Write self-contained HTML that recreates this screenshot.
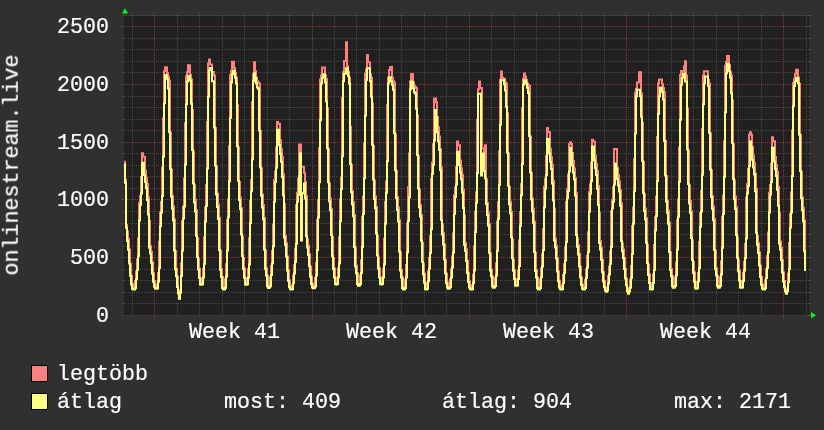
<!DOCTYPE html>
<html><head><meta charset="utf-8"><title>onlinestream.live</title>
<style>
html,body{margin:0;padding:0;background:#303030;}
body{width:824px;height:430px;position:relative;overflow:hidden;font-family:"Liberation Mono",monospace;}
.t{position:absolute;height:30px;line-height:30px;font-size:21.67px;color:#fff;white-space:pre;
   font-family:"Liberation Mono",monospace;transform-origin:0 20.77px;transform:scaleY(1.06);letter-spacing:0;-webkit-text-stroke:0.2px #fff;will-change:transform;}
.v{position:absolute;left:0;top:0;width:221px;height:30px;line-height:30px;font-size:21.67px;color:#fff;white-space:pre;
   font-family:"Liberation Mono",monospace;-webkit-text-stroke:0.2px #fff;will-change:transform;
   transform-origin:0 0;transform:translate(-3.21px,275.50px) rotate(-90deg) scaleY(1.06);}
</style></head><body>
<svg width="824" height="430" viewBox="0 0 824 430" style="position:absolute;left:0;top:0">
<rect x="124" y="16" width="685" height="299" fill="#202020" shape-rendering="crispEdges"/>
<g shape-rendering="crispEdges" stroke-width="1" fill="none">
<line x1="123" x2="808" y1="315.5" y2="315.5" stroke="rgba(224,80,80,0.54)" stroke-dasharray="1,1" opacity="0.42"/>
<line x1="121" x2="123" y1="315.5" y2="315.5" stroke="rgba(140,140,140,0.36)" opacity="0.6"/>
<line x1="808" x2="811" y1="315.5" y2="315.5" stroke="rgba(140,140,140,0.36)"/>
<line x1="124" x2="808" y1="303.5" y2="303.5" stroke="rgba(140,140,140,0.36)" stroke-dasharray="1,1"/>
<line x1="122" x2="124" y1="303.5" y2="303.5" stroke="rgba(140,140,140,0.36)" opacity="0.6"/>
<line x1="808" x2="811" y1="303.5" y2="303.5" stroke="rgba(140,140,140,0.36)"/>
<line x1="124" x2="808" y1="292.5" y2="292.5" stroke="rgba(140,140,140,0.36)" stroke-dasharray="1,1"/>
<line x1="122" x2="124" y1="292.5" y2="292.5" stroke="rgba(140,140,140,0.36)" opacity="0.6"/>
<line x1="808" x2="811" y1="292.5" y2="292.5" stroke="rgba(140,140,140,0.36)"/>
<line x1="124" x2="808" y1="280.5" y2="280.5" stroke="rgba(140,140,140,0.36)" stroke-dasharray="1,1"/>
<line x1="122" x2="124" y1="280.5" y2="280.5" stroke="rgba(140,140,140,0.36)" opacity="0.6"/>
<line x1="808" x2="811" y1="280.5" y2="280.5" stroke="rgba(140,140,140,0.36)"/>
<line x1="124" x2="808" y1="269.5" y2="269.5" stroke="rgba(140,140,140,0.36)" stroke-dasharray="1,1"/>
<line x1="122" x2="124" y1="269.5" y2="269.5" stroke="rgba(140,140,140,0.36)" opacity="0.6"/>
<line x1="808" x2="811" y1="269.5" y2="269.5" stroke="rgba(140,140,140,0.36)"/>
<line x1="123" x2="808" y1="257.5" y2="257.5" stroke="rgba(224,80,80,0.54)" stroke-dasharray="1,1"/>
<line x1="121" x2="123" y1="257.5" y2="257.5" stroke="rgba(140,140,140,0.36)" opacity="0.6"/>
<line x1="808" x2="811" y1="257.5" y2="257.5" stroke="rgba(140,140,140,0.36)"/>
<line x1="124" x2="808" y1="246.5" y2="246.5" stroke="rgba(140,140,140,0.36)" stroke-dasharray="1,1"/>
<line x1="122" x2="124" y1="246.5" y2="246.5" stroke="rgba(140,140,140,0.36)" opacity="0.6"/>
<line x1="808" x2="811" y1="246.5" y2="246.5" stroke="rgba(140,140,140,0.36)"/>
<line x1="124" x2="808" y1="234.5" y2="234.5" stroke="rgba(140,140,140,0.36)" stroke-dasharray="1,1"/>
<line x1="122" x2="124" y1="234.5" y2="234.5" stroke="rgba(140,140,140,0.36)" opacity="0.6"/>
<line x1="808" x2="811" y1="234.5" y2="234.5" stroke="rgba(140,140,140,0.36)"/>
<line x1="124" x2="808" y1="223.5" y2="223.5" stroke="rgba(140,140,140,0.36)" stroke-dasharray="1,1"/>
<line x1="122" x2="124" y1="223.5" y2="223.5" stroke="rgba(140,140,140,0.36)" opacity="0.6"/>
<line x1="808" x2="811" y1="223.5" y2="223.5" stroke="rgba(140,140,140,0.36)"/>
<line x1="124" x2="808" y1="211.5" y2="211.5" stroke="rgba(140,140,140,0.36)" stroke-dasharray="1,1"/>
<line x1="122" x2="124" y1="211.5" y2="211.5" stroke="rgba(140,140,140,0.36)" opacity="0.6"/>
<line x1="808" x2="811" y1="211.5" y2="211.5" stroke="rgba(140,140,140,0.36)"/>
<line x1="123" x2="808" y1="199.5" y2="199.5" stroke="rgba(224,80,80,0.54)" stroke-dasharray="1,1"/>
<line x1="121" x2="123" y1="199.5" y2="199.5" stroke="rgba(140,140,140,0.36)" opacity="0.6"/>
<line x1="808" x2="811" y1="199.5" y2="199.5" stroke="rgba(140,140,140,0.36)"/>
<line x1="124" x2="808" y1="188.5" y2="188.5" stroke="rgba(140,140,140,0.36)" stroke-dasharray="1,1"/>
<line x1="122" x2="124" y1="188.5" y2="188.5" stroke="rgba(140,140,140,0.36)" opacity="0.6"/>
<line x1="808" x2="811" y1="188.5" y2="188.5" stroke="rgba(140,140,140,0.36)"/>
<line x1="124" x2="808" y1="176.5" y2="176.5" stroke="rgba(140,140,140,0.36)" stroke-dasharray="1,1"/>
<line x1="122" x2="124" y1="176.5" y2="176.5" stroke="rgba(140,140,140,0.36)" opacity="0.6"/>
<line x1="808" x2="811" y1="176.5" y2="176.5" stroke="rgba(140,140,140,0.36)"/>
<line x1="124" x2="808" y1="165.5" y2="165.5" stroke="rgba(140,140,140,0.36)" stroke-dasharray="1,1"/>
<line x1="122" x2="124" y1="165.5" y2="165.5" stroke="rgba(140,140,140,0.36)" opacity="0.6"/>
<line x1="808" x2="811" y1="165.5" y2="165.5" stroke="rgba(140,140,140,0.36)"/>
<line x1="124" x2="808" y1="153.5" y2="153.5" stroke="rgba(140,140,140,0.36)" stroke-dasharray="1,1"/>
<line x1="122" x2="124" y1="153.5" y2="153.5" stroke="rgba(140,140,140,0.36)" opacity="0.6"/>
<line x1="808" x2="811" y1="153.5" y2="153.5" stroke="rgba(140,140,140,0.36)"/>
<line x1="123" x2="808" y1="142.5" y2="142.5" stroke="rgba(224,80,80,0.54)" stroke-dasharray="1,1"/>
<line x1="121" x2="123" y1="142.5" y2="142.5" stroke="rgba(140,140,140,0.36)" opacity="0.6"/>
<line x1="808" x2="811" y1="142.5" y2="142.5" stroke="rgba(140,140,140,0.36)"/>
<line x1="124" x2="808" y1="130.5" y2="130.5" stroke="rgba(140,140,140,0.36)" stroke-dasharray="1,1"/>
<line x1="122" x2="124" y1="130.5" y2="130.5" stroke="rgba(140,140,140,0.36)" opacity="0.6"/>
<line x1="808" x2="811" y1="130.5" y2="130.5" stroke="rgba(140,140,140,0.36)"/>
<line x1="124" x2="808" y1="119.5" y2="119.5" stroke="rgba(140,140,140,0.36)" stroke-dasharray="1,1"/>
<line x1="122" x2="124" y1="119.5" y2="119.5" stroke="rgba(140,140,140,0.36)" opacity="0.6"/>
<line x1="808" x2="811" y1="119.5" y2="119.5" stroke="rgba(140,140,140,0.36)"/>
<line x1="124" x2="808" y1="107.5" y2="107.5" stroke="rgba(140,140,140,0.36)" stroke-dasharray="1,1"/>
<line x1="122" x2="124" y1="107.5" y2="107.5" stroke="rgba(140,140,140,0.36)" opacity="0.6"/>
<line x1="808" x2="811" y1="107.5" y2="107.5" stroke="rgba(140,140,140,0.36)"/>
<line x1="124" x2="808" y1="96.5" y2="96.5" stroke="rgba(140,140,140,0.36)" stroke-dasharray="1,1"/>
<line x1="122" x2="124" y1="96.5" y2="96.5" stroke="rgba(140,140,140,0.36)" opacity="0.6"/>
<line x1="808" x2="811" y1="96.5" y2="96.5" stroke="rgba(140,140,140,0.36)"/>
<line x1="123" x2="808" y1="84.5" y2="84.5" stroke="rgba(224,80,80,0.54)" stroke-dasharray="1,1"/>
<line x1="121" x2="123" y1="84.5" y2="84.5" stroke="rgba(140,140,140,0.36)" opacity="0.6"/>
<line x1="808" x2="811" y1="84.5" y2="84.5" stroke="rgba(140,140,140,0.36)"/>
<line x1="124" x2="808" y1="72.5" y2="72.5" stroke="rgba(140,140,140,0.36)" stroke-dasharray="1,1"/>
<line x1="122" x2="124" y1="72.5" y2="72.5" stroke="rgba(140,140,140,0.36)" opacity="0.6"/>
<line x1="808" x2="811" y1="72.5" y2="72.5" stroke="rgba(140,140,140,0.36)"/>
<line x1="124" x2="808" y1="61.5" y2="61.5" stroke="rgba(140,140,140,0.36)" stroke-dasharray="1,1"/>
<line x1="122" x2="124" y1="61.5" y2="61.5" stroke="rgba(140,140,140,0.36)" opacity="0.6"/>
<line x1="808" x2="811" y1="61.5" y2="61.5" stroke="rgba(140,140,140,0.36)"/>
<line x1="124" x2="808" y1="49.5" y2="49.5" stroke="rgba(140,140,140,0.36)" stroke-dasharray="1,1"/>
<line x1="122" x2="124" y1="49.5" y2="49.5" stroke="rgba(140,140,140,0.36)" opacity="0.6"/>
<line x1="808" x2="811" y1="49.5" y2="49.5" stroke="rgba(140,140,140,0.36)"/>
<line x1="124" x2="808" y1="38.5" y2="38.5" stroke="rgba(140,140,140,0.36)" stroke-dasharray="1,1"/>
<line x1="122" x2="124" y1="38.5" y2="38.5" stroke="rgba(140,140,140,0.36)" opacity="0.6"/>
<line x1="808" x2="811" y1="38.5" y2="38.5" stroke="rgba(140,140,140,0.36)"/>
<line x1="123" x2="808" y1="26.5" y2="26.5" stroke="rgba(224,80,80,0.54)" stroke-dasharray="1,1"/>
<line x1="121" x2="123" y1="26.5" y2="26.5" stroke="rgba(140,140,140,0.36)" opacity="0.6"/>
<line x1="808" x2="811" y1="26.5" y2="26.5" stroke="rgba(140,140,140,0.36)"/>
<line x1="124" x2="808" y1="15.5" y2="15.5" stroke="rgba(140,140,140,0.36)" stroke-dasharray="1,1"/>
<line x1="122" x2="124" y1="15.5" y2="15.5" stroke="rgba(140,140,140,0.36)" opacity="0.6"/>
<line x1="808" x2="811" y1="15.5" y2="15.5" stroke="rgba(140,140,140,0.36)"/>
<line x1="132.5" x2="132.5" y1="13" y2="317" stroke="rgba(140,140,140,0.36)" stroke-dasharray="1,1"/>
<line x1="154.5" x2="154.5" y1="13" y2="318" stroke="rgba(224,80,80,0.54)" stroke-dasharray="1,1"/>
<line x1="177.5" x2="177.5" y1="13" y2="317" stroke="rgba(140,140,140,0.36)" stroke-dasharray="1,1"/>
<line x1="199.5" x2="199.5" y1="13" y2="317" stroke="rgba(140,140,140,0.36)" stroke-dasharray="1,1"/>
<line x1="222.5" x2="222.5" y1="13" y2="317" stroke="rgba(140,140,140,0.36)" stroke-dasharray="1,1"/>
<line x1="244.5" x2="244.5" y1="13" y2="317" stroke="rgba(140,140,140,0.36)" stroke-dasharray="1,1"/>
<line x1="267.5" x2="267.5" y1="13" y2="317" stroke="rgba(140,140,140,0.36)" stroke-dasharray="1,1"/>
<line x1="289.5" x2="289.5" y1="13" y2="317" stroke="rgba(140,140,140,0.36)" stroke-dasharray="1,1"/>
<line x1="312.5" x2="312.5" y1="13" y2="318" stroke="rgba(224,80,80,0.54)" stroke-dasharray="1,1"/>
<line x1="334.5" x2="334.5" y1="13" y2="317" stroke="rgba(140,140,140,0.36)" stroke-dasharray="1,1"/>
<line x1="356.5" x2="356.5" y1="13" y2="317" stroke="rgba(140,140,140,0.36)" stroke-dasharray="1,1"/>
<line x1="379.5" x2="379.5" y1="13" y2="317" stroke="rgba(140,140,140,0.36)" stroke-dasharray="1,1"/>
<line x1="401.5" x2="401.5" y1="13" y2="317" stroke="rgba(140,140,140,0.36)" stroke-dasharray="1,1"/>
<line x1="424.5" x2="424.5" y1="13" y2="317" stroke="rgba(140,140,140,0.36)" stroke-dasharray="1,1"/>
<line x1="446.5" x2="446.5" y1="13" y2="317" stroke="rgba(140,140,140,0.36)" stroke-dasharray="1,1"/>
<line x1="469.5" x2="469.5" y1="13" y2="318" stroke="rgba(224,80,80,0.54)" stroke-dasharray="1,1"/>
<line x1="491.5" x2="491.5" y1="13" y2="317" stroke="rgba(140,140,140,0.36)" stroke-dasharray="1,1"/>
<line x1="514.5" x2="514.5" y1="13" y2="317" stroke="rgba(140,140,140,0.36)" stroke-dasharray="1,1"/>
<line x1="536.5" x2="536.5" y1="13" y2="317" stroke="rgba(140,140,140,0.36)" stroke-dasharray="1,1"/>
<line x1="559.5" x2="559.5" y1="13" y2="317" stroke="rgba(140,140,140,0.36)" stroke-dasharray="1,1"/>
<line x1="581.5" x2="581.5" y1="13" y2="317" stroke="rgba(140,140,140,0.36)" stroke-dasharray="1,1"/>
<line x1="604.5" x2="604.5" y1="13" y2="317" stroke="rgba(140,140,140,0.36)" stroke-dasharray="1,1"/>
<line x1="626.5" x2="626.5" y1="13" y2="318" stroke="rgba(224,80,80,0.54)" stroke-dasharray="1,1"/>
<line x1="648.5" x2="648.5" y1="13" y2="317" stroke="rgba(140,140,140,0.36)" stroke-dasharray="1,1"/>
<line x1="671.5" x2="671.5" y1="13" y2="317" stroke="rgba(140,140,140,0.36)" stroke-dasharray="1,1"/>
<line x1="693.5" x2="693.5" y1="13" y2="317" stroke="rgba(140,140,140,0.36)" stroke-dasharray="1,1"/>
<line x1="716.5" x2="716.5" y1="13" y2="317" stroke="rgba(140,140,140,0.36)" stroke-dasharray="1,1"/>
<line x1="738.5" x2="738.5" y1="13" y2="317" stroke="rgba(140,140,140,0.36)" stroke-dasharray="1,1"/>
<line x1="761.5" x2="761.5" y1="13" y2="317" stroke="rgba(140,140,140,0.36)" stroke-dasharray="1,1"/>
<line x1="783.5" x2="783.5" y1="13" y2="318" stroke="rgba(224,80,80,0.54)" stroke-dasharray="1,1"/>
<line x1="806.5" x2="806.5" y1="13" y2="317" stroke="rgba(140,140,140,0.36)" stroke-dasharray="1,1"/>
</g>
<clipPath id="c"><rect x="124" y="15" width="685" height="301"/></clipPath>
<g clip-path="url(#c)"><g fill="none" stroke-width="2" stroke-linejoin="miter" stroke-linecap="butt">
<path d="M124,161.7 L125,161.7 L125,179.8 L126,179.8 L126,224.8 L127,224.8 L127,231.5 L128,231.5 L128,239.0 L129,239.0 L129,249.5 L130,249.5 L130,263.9 L131,263.9 L131,276.0 L132,276.0 L132,284.1 L133,284.1 L133,287.4 L134,287.4 L134,287.6 L135,287.6 L135,281.0 L136,281.0 L136,271.6 L137,271.6 L137,259.6 L138,259.6 L138,238.4 L139,238.4 L139,202.9 L140,202.9 L140,196.0 L141,196.0 L141,176.9 L142,176.9 L142,153.3 L143,153.3 L143,156.8 L144,156.8 L145,156.8 L145,170.8 L146,170.8 L146,177.8 L147,177.8 L147,184.1 L148,184.1 L148,197.5 L149,197.5 L149,220.9 L150,220.9 L150,245.9 L151,245.9 L151,251.8 L152,251.8 L152,262.4 L153,262.4 L153,273.3 L154,273.3 L154,281.0 L155,281.0 L155,285.6 L156,285.6 L156,286.8 L157,286.8 L157,284.2 L158,284.2 L158,273.0 L159,273.0 L159,241.8 L160,241.8 L160,212.5 L161,212.5 L161,202.1 L162,202.1 L162,167.7 L163,167.7 L163,118.3 L164,118.3 L164,71.2 L165,71.2 L165,67.2 L166,67.2 L167,67.2 L167,73.2 L168,73.2 L168,76.7 L169,76.7 L169,80.7 L170,80.7 L170,132.7 L171,132.7 L171,169.8 L172,169.8 L172,195.8 L173,195.8 L173,206.3 L174,206.3 L174,219.2 L175,219.2 L175,251.3 L176,251.3 L176,268.7 L177,268.7 L177,276.5 L178,276.5 L178,290.7 L179,290.7 L179,296.3 L180,296.3 L180,289.9 L181,289.9 L181,263.6 L182,263.6 L182,221.2 L183,221.2 L183,206.8 L184,206.8 L184,178.6 L185,178.6 L185,123.2 L186,123.2 L186,76.2 L187,76.2 L187,72.2 L188,72.2 L188,65.3 L189,65.3 L190,65.3 L190,74.9 L191,74.9 L191,79.6 L192,79.6 L192,110.3 L193,110.3 L193,151.2 L194,151.2 L194,184.8 L195,184.8 L195,199.8 L196,199.8 L196,210.0 L197,210.0 L197,238.0 L198,238.0 L198,258.8 L199,258.8 L199,268.7 L200,268.7 L200,278.2 L201,278.2 L201,282.9 L202,282.9 L202,280.2 L203,280.2 L203,268.9 L204,268.9 L204,237.3 L205,237.3 L205,207.5 L206,207.5 L206,185.2 L207,185.2 L207,121.9 L208,121.9 L208,63.6 L209,63.6 L209,59.5 L210,59.5 L210,64.5 L211,64.5 L212,64.5 L212,72.0 L213,72.0 L214,72.0 L214,75.5 L215,75.5 L215,128.0 L216,128.0 L216,166.6 L217,166.6 L217,193.5 L218,193.5 L218,204.4 L219,204.4 L219,217.8 L220,217.8 L220,251.0 L221,251.0 L221,269.0 L222,269.0 L222,277.1 L223,277.1 L223,287.4 L224,287.4 L224,287.5 L225,287.5 L225,279.3 L226,279.3 L226,263.9 L227,263.9 L227,220.0 L228,220.0 L228,199.5 L229,199.5 L229,146.3 L230,146.3 L230,74.9 L231,74.9 L231,70.9 L232,70.9 L232,61.7 L233,61.7 L234,61.7 L234,68.1 L235,68.1 L235,73.2 L236,73.2 L236,77.8 L237,77.8 L237,105.3 L238,105.3 L238,147.4 L239,147.4 L239,182.0 L240,182.0 L240,197.4 L241,197.4 L241,207.9 L242,207.9 L242,236.7 L243,236.7 L243,258.1 L244,258.1 L244,268.3 L245,268.3 L245,278.1 L246,278.1 L246,282.9 L247,282.9 L247,280.3 L248,280.3 L248,269.2 L249,269.2 L249,238.2 L250,238.2 L250,201.0 L251,201.0 L251,180.0 L252,180.0 L252,102.0 L253,102.0 L253,74.3 L254,74.3 L254,62.3 L255,62.3 L255,70.9 L256,70.9 L256,77.8 L257,77.8 L257,81.3 L258,81.3 L258,82.4 L259,82.4 L259,83.6 L260,83.6 L260,130.9 L261,130.9 L261,168.4 L262,168.4 L262,194.5 L263,194.5 L263,205.1 L264,205.1 L264,218.1 L265,218.1 L265,250.4 L266,250.4 L266,268.0 L267,268.0 L267,275.8 L268,275.8 L268,285.8 L269,285.8 L269,285.9 L270,285.9 L270,277.6 L271,277.6 L271,265.9 L272,265.9 L272,251.0 L273,251.0 L273,224.4 L274,224.4 L274,180.1 L275,180.1 L275,171.5 L276,171.5 L276,147.6 L277,147.6 L277,122.1 L278,122.1 L278,123.8 L279,123.8 L280,123.8 L280,140.2 L281,140.2 L281,149.2 L282,149.2 L282,157.1 L283,157.1 L283,174.1 L284,174.1 L284,203.9 L285,203.9 L285,235.7 L286,235.7 L286,243.1 L287,243.1 L287,256.6 L288,256.6 L288,270.4 L289,270.4 L289,280.3 L290,280.3 L290,286.1 L291,286.1 L291,287.8 L292,287.8 L292,285.4 L293,285.4 L293,275.5 L294,275.5 L294,265.2 L295,265.2 L295,248.7 L296,248.7 L296,205.2 L297,205.2 L297,192.7 L298,192.7 L298,178.7 L299,178.7 L299,144.4 L300,144.4 L301,144.4 L301,166.7 L302,166.7 L303,166.7 L304,166.7 L304,172.7 L305,172.7 L305,182.1 L306,182.1 L306,196.0 L307,196.0 L307,239.3 L308,239.3 L308,245.6 L309,245.6 L309,254.3 L310,254.3 L310,266.4 L311,266.4 L311,276.5 L312,276.5 L312,283.4 L313,283.4 L313,286.1 L314,286.1 L314,286.1 L315,286.1 L315,278.1 L316,278.1 L316,263.0 L317,263.0 L317,220.1 L318,220.1 L318,200.1 L319,200.1 L319,148.1 L320,148.1 L320,79.5 L321,79.5 L321,75.5 L322,75.5 L322,67.4 L323,67.4 L324,67.4 L325,67.4 L325,75.5 L326,75.5 L326,79.0 L327,79.0 L327,108.2 L328,108.2 L328,149.5 L329,149.5 L329,183.4 L330,183.4 L330,198.5 L331,198.5 L331,208.9 L332,208.9 L332,237.2 L333,237.2 L333,258.2 L334,258.2 L334,268.2 L335,268.2 L335,277.8 L336,277.8 L336,282.5 L337,282.5 L337,279.9 L338,279.9 L338,268.5 L339,268.5 L339,236.9 L340,236.9 L340,198.9 L341,198.9 L341,177.5 L342,177.5 L342,97.8 L343,97.8 L343,72.0 L344,72.0 L344,61.0 L345,61.0 L346,61.0 L346,42.2 L347,42.2 L347,66.3 L348,66.3 L348,72.0 L349,72.0 L349,77.8 L350,77.8 L350,126.8 L351,126.8 L351,164.7 L352,164.7 L352,191.2 L353,191.2 L353,201.9 L354,201.9 L354,215.1 L355,215.1 L355,247.8 L356,247.8 L356,265.5 L357,265.5 L357,273.5 L358,273.5 L358,283.6 L359,283.6 L359,283.7 L360,283.7 L360,275.5 L361,275.5 L361,260.2 L362,260.2 L362,216.7 L363,216.7 L363,196.4 L364,196.4 L364,143.6 L365,143.6 L365,73.8 L366,73.8 L366,69.7 L367,69.7 L367,55.0 L368,55.0 L368,62.2 L369,62.2 L370,62.2 L370,74.3 L371,74.3 L371,77.8 L372,77.8 L372,103.6 L373,103.6 L373,146.0 L374,146.0 L374,180.8 L375,180.8 L375,196.3 L376,196.3 L376,207.0 L377,207.0 L377,236.0 L378,236.0 L378,257.5 L379,257.5 L379,267.8 L380,267.8 L380,277.7 L381,277.7 L381,282.5 L382,282.5 L382,280.0 L383,280.0 L383,269.1 L384,269.1 L384,238.7 L385,238.7 L385,202.1 L386,202.1 L386,181.5 L387,181.5 L387,104.9 L388,104.9 L388,77.8 L389,77.8 L389,70.1 L390,70.1 L390,67.1 L391,67.1 L392,67.1 L392,77.8 L393,77.8 L393,81.3 L394,81.3 L394,82.4 L395,82.4 L395,133.9 L396,133.9 L396,171.0 L397,171.0 L397,196.9 L398,196.9 L398,207.4 L399,207.4 L399,220.3 L400,220.3 L400,252.3 L401,252.3 L401,269.7 L402,269.7 L402,277.5 L403,277.5 L403,287.4 L404,287.4 L404,287.5 L405,287.5 L405,279.7 L406,279.7 L406,265.1 L407,265.1 L407,223.4 L408,223.4 L408,187.2 L409,187.2 L409,153.5 L410,153.5 L410,81.3 L411,81.3 L411,74.1 L412,74.1 L413,74.1 L413,82.4 L414,82.4 L414,85.9 L415,85.9 L415,87.0 L416,87.0 L416,88.2 L417,88.2 L417,115.4 L418,115.4 L418,156.2 L419,156.2 L419,189.8 L420,189.8 L420,204.7 L421,204.7 L421,215.0 L422,215.0 L422,242.9 L423,242.9 L423,263.6 L424,263.6 L424,273.6 L425,273.6 L425,283.1 L426,283.1 L426,287.7 L427,287.7 L427,284.6 L428,284.6 L428,271.5 L429,271.5 L429,258.0 L430,258.0 L430,236.3 L431,236.3 L431,179.0 L432,179.0 L432,162.6 L433,162.6 L433,144.2 L434,144.2 L434,98.5 L435,98.5 L436,98.5 L436,102.2 L437,102.2 L437,116.9 L438,116.9 L438,127.2 L439,127.2 L439,136.5 L440,136.5 L440,148.9 L441,148.9 L441,167.3 L442,167.3 L442,224.4 L443,224.4 L443,232.8 L444,232.8 L444,244.4 L445,244.4 L445,260.3 L446,260.3 L446,273.7 L447,273.7 L447,282.8 L448,282.8 L448,286.4 L449,286.4 L449,286.6 L450,286.6 L450,279.5 L451,279.5 L451,269.3 L452,269.3 L452,256.4 L453,256.4 L453,233.4 L454,233.4 L454,195.0 L455,195.0 L455,187.6 L456,187.6 L456,167.0 L457,167.0 L457,141.5 L458,141.5 L458,145.2 L459,145.2 L460,145.2 L460,160.5 L461,160.5 L461,168.2 L462,168.2 L462,175.1 L463,175.1 L463,189.8 L464,189.8 L464,215.4 L465,215.4 L465,242.9 L466,242.9 L466,249.3 L467,249.3 L467,260.9 L468,260.9 L468,272.8 L469,272.8 L469,281.4 L470,281.4 L470,286.4 L471,286.4 L471,287.8 L472,287.8 L472,285.3 L473,285.3 L473,275.0 L474,275.0 L474,246.3 L475,246.3 L475,211.7 L476,211.7 L476,192.2 L477,192.2 L477,119.7 L478,119.7 L478,89.3 L479,89.3 L479,81.6 L480,81.6 L480,88.0 L481,88.0 L482,88.0 L482,148.2 L483,148.2 L484,148.2 L484,162.0 L485,162.0 L485,145.2 L486,145.2 L486,179.2 L487,179.2 L487,202.9 L488,202.9 L488,212.5 L489,212.5 L489,224.3 L490,224.3 L490,253.6 L491,253.6 L491,269.5 L492,269.5 L492,276.6 L493,276.6 L493,285.6 L494,285.6 L495,285.6 L495,277.9 L496,277.9 L496,263.2 L497,263.2 L497,221.6 L498,221.6 L498,202.2 L499,202.2 L499,151.6 L500,151.6 L500,80.0 L501,80.0 L501,71.6 L502,71.6 L502,77.8 L503,77.8 L503,78.8 L504,78.8 L505,78.8 L505,82.3 L506,82.3 L506,83.5 L507,83.5 L507,113.2 L508,113.2 L508,153.6 L509,153.6 L509,186.9 L510,186.9 L510,201.7 L511,201.7 L511,211.8 L512,211.8 L512,239.6 L513,239.6 L513,260.1 L514,260.1 L514,269.9 L515,269.9 L515,279.3 L516,279.3 L516,283.9 L517,283.9 L517,281.4 L518,281.4 L518,270.6 L519,270.6 L519,240.6 L520,240.6 L520,212.3 L521,212.3 L521,184.0 L522,184.0 L522,108.3 L523,108.3 L523,79.0 L524,79.0 L524,73.4 L525,73.4 L525,76.7 L526,76.7 L526,80.1 L527,80.1 L527,83.6 L528,83.6 L528,84.7 L529,84.7 L529,85.9 L530,85.9 L530,136.6 L531,136.6 L531,173.0 L532,173.0 L532,198.5 L533,198.5 L533,208.8 L534,208.8 L534,221.5 L535,221.5 L535,253.0 L536,253.0 L536,270.0 L537,270.0 L537,277.7 L538,277.7 L538,287.4 L539,287.4 L539,287.5 L540,287.5 L540,279.6 L541,279.6 L541,268.5 L542,268.5 L542,254.3 L543,254.3 L543,229.0 L544,229.0 L544,186.8 L545,186.8 L545,178.7 L546,178.7 L546,155.9 L547,155.9 L547,128.1 L548,128.1 L548,132.1 L549,132.1 L550,132.1 L550,148.8 L551,148.8 L551,157.2 L552,157.2 L552,164.7 L553,164.7 L553,180.7 L554,180.7 L554,208.8 L555,208.8 L555,238.7 L556,238.7 L556,245.7 L557,245.7 L557,258.4 L558,258.4 L558,271.4 L559,271.4 L559,280.7 L560,280.7 L560,286.2 L561,286.2 L561,287.8 L562,287.8 L562,285.3 L563,285.3 L563,275.0 L564,275.0 L564,264.3 L565,264.3 L565,247.2 L566,247.2 L566,201.9 L567,201.9 L567,188.9 L568,188.9 L568,174.4 L569,174.4 L569,144.0 L570,144.0 L570,142.3 L571,142.3 L571,144.0 L572,144.0 L572,152.9 L573,152.9 L573,161.1 L574,161.1 L574,168.4 L575,168.4 L575,178.3 L576,178.3 L576,192.9 L577,192.9 L577,238.3 L578,238.3 L578,244.9 L579,244.9 L579,254.1 L580,254.1 L580,266.8 L581,266.8 L581,277.4 L582,277.4 L582,284.6 L583,284.6 L583,287.5 L584,287.5 L584,287.5 L585,287.5 L585,280.1 L586,280.1 L586,269.5 L587,269.5 L587,256.0 L588,256.0 L588,232.0 L589,232.0 L589,191.9 L590,191.9 L590,184.2 L591,184.2 L591,162.6 L592,162.6 L592,139.8 L593,139.8 L593,141.5 L594,141.5 L595,141.5 L595,155.8 L596,155.8 L596,163.8 L597,163.8 L597,170.9 L598,170.9 L598,186.1 L599,186.1 L599,212.7 L600,212.7 L600,241.0 L601,241.0 L601,247.7 L602,247.7 L602,259.7 L603,259.7 L603,272.1 L604,272.1 L604,280.9 L605,280.9 L605,287.6 L606,287.6 L606,289.5 L607,289.5 L607,287.6 L608,287.6 L608,276.2 L609,276.2 L609,266.7 L610,266.7 L610,251.5 L611,251.5 L611,211.3 L612,211.3 L612,199.8 L613,199.8 L613,186.9 L614,186.9 L614,149.1 L615,149.1 L616,149.1 L617,149.1 L617,167.7 L618,167.7 L618,175.0 L619,175.0 L619,181.5 L620,181.5 L620,190.3 L621,190.3 L621,203.3 L622,203.3 L622,243.6 L623,243.6 L623,249.5 L624,249.5 L624,257.7 L625,257.7 L625,268.9 L626,268.9 L626,278.4 L627,278.4 L627,288.3 L628,288.3 L628,291.4 L629,291.4 L629,288.6 L630,288.6 L630,279.9 L631,279.9 L631,265.9 L632,265.9 L632,226.1 L633,226.1 L633,207.5 L634,207.5 L634,159.3 L635,159.3 L635,92.8 L636,92.8 L636,88.8 L637,88.8 L637,82.5 L638,82.5 L639,82.5 L639,72.3 L640,72.3 L641,72.3 L641,93.6 L642,93.6 L642,122.9 L643,122.9 L643,162.0 L644,162.0 L644,194.1 L645,194.1 L645,208.4 L646,208.4 L646,218.2 L647,218.2 L647,244.9 L648,244.9 L648,264.7 L649,264.7 L649,274.2 L650,274.2 L650,283.3 L651,283.3 L651,287.7 L652,287.7 L652,285.3 L653,285.3 L653,274.6 L654,274.6 L654,245.1 L655,245.1 L655,217.3 L656,217.3 L656,196.4 L657,196.4 L657,137.1 L658,137.1 L658,83.6 L659,83.6 L659,79.5 L660,79.5 L661,79.5 L662,79.5 L662,84.2 L663,84.2 L663,88.1 L664,88.1 L664,92.2 L665,92.2 L665,141.1 L666,141.1 L666,176.1 L667,176.1 L667,200.5 L668,200.5 L668,210.4 L669,210.4 L669,222.5 L670,222.5 L670,252.6 L671,252.6 L671,269.0 L672,269.0 L672,276.3 L673,276.3 L673,285.6 L674,285.6 L675,285.6 L675,277.6 L676,277.6 L676,262.5 L677,262.5 L677,219.7 L678,219.7 L678,199.6 L679,199.6 L679,147.6 L680,147.6 L680,75.0 L681,75.0 L681,71.0 L682,71.0 L683,71.0 L684,71.0 L684,66.3 L685,66.3 L685,61.3 L686,61.3 L686,75.5 L687,75.5 L687,108.5 L688,108.5 L688,150.7 L689,150.7 L689,185.5 L690,185.5 L690,200.9 L691,200.9 L691,211.5 L692,211.5 L692,240.5 L693,240.5 L693,261.9 L694,261.9 L694,272.2 L695,272.2 L695,282.0 L696,282.0 L696,286.8 L697,286.8 L697,284.2 L698,284.2 L698,273.1 L699,273.1 L699,242.1 L700,242.1 L700,212.9 L701,212.9 L701,191.0 L702,191.0 L702,128.9 L703,128.9 L703,75.4 L704,75.4 L704,71.3 L705,71.3 L706,71.3 L707,71.3 L708,71.3 L708,80.1 L709,80.1 L709,83.6 L710,83.6 L710,133.4 L711,133.4 L711,170.2 L712,170.2 L712,195.9 L713,195.9 L713,206.3 L714,206.3 L714,219.1 L715,219.1 L715,250.8 L716,250.8 L716,268.0 L717,268.0 L717,275.7 L718,275.7 L718,285.6 L719,285.6 L719,285.6 L720,285.6 L720,277.2 L721,277.2 L721,261.5 L722,261.5 L722,216.7 L723,216.7 L723,195.8 L724,195.8 L724,141.4 L725,141.4 L725,65.9 L726,65.9 L726,61.9 L727,61.9 L727,55.9 L728,55.9 L729,55.9 L729,65.1 L730,65.1 L730,72.0 L731,72.0 L731,75.5 L732,75.5 L732,100.4 L733,100.4 L733,144.3 L734,144.3 L734,180.5 L735,180.5 L735,196.5 L736,196.5 L736,207.6 L737,207.6 L737,237.7 L738,237.7 L738,259.9 L739,259.9 L739,270.6 L740,270.6 L740,280.9 L741,280.9 L741,285.9 L742,285.9 L742,283.4 L743,283.4 L743,272.7 L744,272.7 L744,261.7 L745,261.7 L745,244.0 L746,244.0 L746,197.4 L747,197.4 L747,184.0 L748,184.0 L748,169.0 L749,169.0 L749,134.8 L750,134.8 L750,132.3 L751,132.3 L751,134.7 L752,134.7 L752,146.9 L753,146.9 L753,155.4 L754,155.4 L754,163.1 L755,163.1 L755,173.4 L756,173.4 L756,188.7 L757,188.7 L757,236.1 L758,236.1 L758,243.0 L759,243.0 L759,252.6 L760,252.6 L760,265.8 L761,265.8 L761,276.9 L762,276.9 L762,284.4 L763,284.4 L763,287.4 L764,287.4 L764,287.5 L765,287.5 L765,280.1 L766,280.1 L766,269.6 L767,269.6 L767,256.3 L768,256.3 L768,232.5 L769,232.5 L769,192.8 L770,192.8 L770,185.1 L771,185.1 L771,163.7 L772,163.7 L772,137.2 L773,137.2 L773,141.3 L774,141.3 L775,141.3 L775,157.0 L776,157.0 L776,164.9 L777,164.9 L777,171.9 L778,171.9 L778,187.0 L779,187.0 L779,213.3 L780,213.3 L780,241.5 L781,241.5 L781,248.1 L782,248.1 L782,260.0 L783,260.0 L783,272.2 L784,272.2 L784,280.9 L785,280.9 L785,288.5 L786,288.5 L786,291.4 L787,291.4 L787,288.4 L788,288.4 L788,273.8 L789,273.8 L789,243.0 L790,243.0 L790,214.0 L791,214.0 L791,192.3 L792,192.3 L792,130.5 L793,130.5 L793,83.0 L794,83.0 L794,79.0 L795,79.0 L795,74.3 L796,74.3 L796,69.7 L797,69.7 L798,69.7 L798,77.8 L799,77.8 L799,83.8 L800,83.8 L800,135.1 L801,135.1 L801,171.7 L802,171.7 L802,197.3 L803,197.3 L803,207.7 L804,207.7 L804,220.4 L805,220.4 L805,252.0 L806,252.0" stroke="#FF8080"/>
<path d="M124,164.6 L125,164.6 L125,182.7 L126,182.7 L126,227.7 L127,227.7 L127,240.9 L128,240.9 L128,249.8 L129,249.8 L129,263.4 L130,263.4 L130,275.8 L131,275.8 L131,284.4 L132,284.4 L132,288.7 L133,288.7 L133,289.6 L134,289.6 L134,289.5 L135,289.5 L135,288.2 L136,288.2 L136,279.3 L137,279.3 L137,270.1 L138,270.1 L138,256.2 L139,256.2 L139,220.6 L140,220.6 L140,204.7 L141,204.7 L141,193.4 L142,193.4 L142,162.8 L143,162.8 L144,162.8 L144,174.9 L145,174.9 L145,181.9 L146,181.9 L146,188.0 L147,188.0 L147,200.1 L148,200.1 L148,214.4 L149,214.4 L149,247.8 L150,247.8 L150,253.5 L151,253.5 L151,262.7 L152,262.7 L152,273.6 L153,273.6 L153,281.7 L154,281.7 L154,286.8 L155,286.8 L155,288.4 L156,288.4 L156,288.7 L157,288.7 L157,288.2 L158,288.2 L158,281.6 L159,281.6 L159,268.0 L160,268.0 L160,226.3 L161,226.3 L161,212.6 L162,212.6 L162,195.9 L163,195.9 L163,156.5 L164,156.5 L164,103.2 L165,103.2 L165,75.0 L166,75.0 L167,75.0 L167,79.0 L168,79.0 L168,88.4 L169,88.4 L169,132.1 L170,132.1 L170,169.1 L171,169.1 L171,196.8 L172,196.8 L172,208.8 L173,208.8 L173,220.4 L174,220.4 L174,250.4 L175,250.4 L175,269.6 L176,269.6 L176,276.3 L177,276.3 L177,286.9 L178,286.9 L178,293.6 L179,293.6 L179,298.7 L180,298.7 L180,292.8 L181,292.8 L181,276.1 L182,276.1 L182,250.8 L183,250.8 L183,218.6 L184,218.6 L184,206.5 L185,206.5 L185,164.5 L186,164.5 L186,104.3 L187,104.3 L187,81.4 L188,81.4 L188,76.1 L189,76.1 L190,76.1 L190,80.5 L191,80.5 L191,103.7 L192,103.7 L192,150.1 L193,150.1 L193,183.6 L194,183.6 L194,202.4 L195,202.4 L195,211.4 L196,211.4 L196,235.8 L197,235.8 L197,256.9 L198,256.9 L198,269.5 L199,269.5 L199,278.0 L200,278.0 L200,284.4 L201,284.4 L201,284.8 L202,284.8 L202,284.3 L203,284.3 L203,277.5 L204,277.5 L204,263.8 L205,263.8 L205,221.5 L206,221.5 L206,205.9 L207,205.9 L207,168.6 L208,168.6 L208,96.7 L209,96.7 L209,70.2 L210,70.2 L210,68.0 L211,68.0 L212,68.0 L212,81.3 L213,81.3 L214,81.3 L214,127.4 L215,127.4 L215,165.7 L216,165.7 L216,194.5 L217,194.5 L217,206.9 L218,206.9 L218,218.9 L219,218.9 L219,250.0 L220,250.0 L220,269.9 L221,269.9 L221,276.9 L222,276.9 L222,287.9 L223,287.9 L223,289.6 L224,289.6 L224,289.4 L225,289.4 L225,287.8 L226,287.8 L226,276.7 L227,276.7 L227,250.5 L228,250.5 L228,217.3 L229,217.3 L229,181.3 L230,181.3 L230,117.8 L231,117.8 L231,82.4 L232,82.4 L232,74.3 L233,74.3 L233,70.7 L234,70.7 L235,70.7 L235,77.8 L236,77.8 L236,83.6 L237,83.6 L237,146.2 L238,146.2 L238,180.7 L239,180.7 L239,200.0 L240,200.0 L240,209.3 L241,209.3 L241,234.4 L242,234.4 L242,256.1 L243,256.1 L243,269.1 L244,269.1 L244,277.8 L245,277.8 L245,284.4 L246,284.4 L246,284.8 L247,284.8 L247,284.3 L248,284.3 L248,277.7 L249,277.7 L249,264.2 L250,264.2 L250,222.9 L251,222.9 L251,191.3 L252,191.3 L252,159.3 L253,159.3 L253,81.3 L254,81.3 L254,73.2 L255,73.2 L255,77.8 L256,77.8 L256,83.6 L257,83.6 L257,87.6 L258,87.6 L258,88.8 L259,88.8 L259,130.4 L260,130.4 L260,167.6 L261,167.6 L261,195.5 L262,195.5 L262,207.6 L263,207.6 L263,219.3 L264,219.3 L264,249.5 L265,249.5 L265,268.8 L266,268.8 L266,275.6 L267,275.6 L267,286.3 L268,286.3 L268,288.0 L269,288.0 L269,287.8 L270,287.8 L270,286.2 L271,286.2 L271,275.0 L272,275.0 L272,263.6 L273,263.6 L273,246.3 L274,246.3 L274,201.8 L275,201.8 L275,182.0 L276,182.0 L276,167.8 L277,167.8 L277,129.7 L278,129.7 L279,129.7 L279,145.1 L280,145.1 L280,154.0 L281,154.0 L281,161.7 L282,161.7 L282,177.0 L283,177.0 L283,195.2 L284,195.2 L284,237.6 L285,237.6 L285,244.8 L286,244.8 L286,256.5 L287,256.5 L287,270.4 L288,270.4 L288,280.7 L289,280.7 L289,287.2 L290,287.2 L290,289.3 L291,289.3 L291,289.6 L292,289.6 L292,289.2 L293,289.2 L293,283.3 L294,283.3 L294,273.6 L295,273.6 L295,261.7 L296,261.7 L296,243.7 L297,243.7 L297,201.8 L298,201.8 L298,194.7 L299,194.7 L299,176.0 L300,176.0 L300,153.2 L301,153.2 L301,240.4 L302,240.4 L302,193.2 L303,193.2 L304,193.2 L304,183.4 L305,183.4 L305,198.5 L306,198.5 L306,236.3 L307,236.3 L307,247.4 L308,247.4 L308,254.9 L309,254.9 L309,266.3 L310,266.3 L310,276.7 L311,276.7 L311,283.9 L312,283.9 L312,287.5 L313,287.5 L313,288.3 L314,288.3 L314,288.0 L315,288.0 L315,286.5 L316,286.5 L316,275.6 L317,275.6 L317,250.0 L318,250.0 L318,217.5 L319,217.5 L319,182.3 L320,182.3 L320,120.2 L321,120.2 L321,83.6 L322,83.6 L322,78.0 L323,78.0 L323,74.3 L324,74.3 L325,74.3 L325,82.4 L326,82.4 L326,101.5 L327,101.5 L327,148.3 L328,148.3 L328,182.2 L329,182.2 L329,201.2 L330,201.2 L330,210.3 L331,210.3 L331,234.9 L332,234.9 L332,256.2 L333,256.2 L333,269.0 L334,269.0 L334,277.5 L335,277.5 L335,284.1 L336,284.1 L336,284.4 L337,284.4 L337,284.0 L338,284.0 L338,277.2 L339,277.2 L339,263.4 L340,263.4 L340,221.2 L341,221.2 L341,189.0 L342,189.0 L342,156.2 L343,156.2 L343,81.3 L344,81.3 L344,73.7 L345,73.7 L346,73.7 L346,68.2 L347,68.2 L348,68.2 L348,76.1 L349,76.1 L349,83.6 L350,83.6 L350,163.9 L351,163.9 L351,192.2 L352,192.2 L352,204.5 L353,204.5 L353,216.2 L354,216.2 L354,246.9 L355,246.9 L355,266.4 L356,266.4 L356,273.3 L357,273.3 L357,284.1 L358,284.1 L358,285.8 L359,285.8 L359,285.6 L360,285.6 L360,284.1 L361,284.1 L361,273.0 L362,273.0 L362,247.0 L363,247.0 L363,214.0 L364,214.0 L364,178.3 L365,178.3 L365,115.4 L366,115.4 L366,80.1 L367,80.1 L367,68.2 L368,68.2 L369,68.2 L370,68.2 L370,81.3 L371,81.3 L371,96.7 L372,96.7 L372,144.7 L373,144.7 L373,179.5 L374,179.5 L374,199.0 L375,199.0 L375,208.3 L376,208.3 L376,233.6 L377,233.6 L377,255.5 L378,255.5 L378,268.6 L379,268.6 L379,277.4 L380,277.4 L380,284.1 L381,284.1 L381,284.4 L382,284.4 L382,284.0 L383,284.0 L383,277.5 L384,277.5 L384,264.2 L385,264.2 L385,223.7 L386,223.7 L386,192.7 L387,192.7 L387,161.2 L388,161.2 L388,83.6 L389,83.6 L389,77.3 L390,77.3 L391,77.3 L391,81.3 L392,81.3 L392,84.7 L393,84.7 L393,89.7 L394,89.7 L394,133.3 L395,133.3 L395,170.3 L396,170.3 L396,197.9 L397,197.9 L397,209.9 L398,209.9 L398,221.5 L399,221.5 L399,251.5 L400,251.5 L400,270.6 L401,270.6 L401,277.4 L402,277.4 L402,287.9 L403,287.9 L403,289.6 L404,289.6 L404,289.4 L405,289.4 L405,287.9 L406,287.9 L406,277.4 L407,277.4 L407,252.5 L408,252.5 L408,220.9 L409,220.9 L409,197.2 L410,197.2 L410,89.3 L411,89.3 L411,81.7 L412,81.7 L413,81.7 L413,88.2 L414,88.2 L414,92.2 L415,92.2 L415,93.4 L416,93.4 L416,108.8 L417,108.8 L417,155.1 L418,155.1 L418,188.5 L419,188.5 L419,207.3 L420,207.3 L420,216.4 L421,216.4 L421,240.7 L422,240.7 L422,261.8 L423,261.8 L423,274.4 L424,274.4 L424,282.8 L425,282.8 L425,289.3 L426,289.3 L426,289.6 L427,289.6 L427,289.1 L428,289.1 L428,281.2 L429,281.2 L429,268.4 L430,268.4 L430,252.9 L431,252.9 L431,229.2 L432,229.2 L432,174.0 L433,174.0 L433,164.7 L434,164.7 L434,140.2 L435,140.2 L435,110.1 L436,110.1 L436,117.2 L437,117.2 L437,132.2 L438,132.2 L438,141.5 L439,141.5 L439,150.1 L440,150.1 L440,170.1 L441,170.1 L441,220.0 L442,220.0 L442,234.6 L443,234.6 L443,244.6 L444,244.6 L444,259.6 L445,259.6 L445,273.3 L446,273.3 L446,282.9 L447,282.9 L447,287.6 L448,287.6 L448,288.7 L449,288.7 L449,288.5 L450,288.5 L450,287.2 L451,287.2 L451,277.5 L452,277.5 L452,267.6 L453,267.6 L453,252.6 L454,252.6 L454,214.0 L455,214.0 L455,196.9 L456,196.9 L456,184.6 L457,184.6 L457,151.7 L458,151.7 L459,151.7 L459,164.9 L460,164.9 L460,172.6 L461,172.6 L461,179.2 L462,179.2 L462,192.5 L463,192.5 L463,208.1 L464,208.1 L464,244.8 L465,244.8 L465,251.0 L466,251.0 L466,261.1 L467,261.1 L467,273.1 L468,273.1 L468,281.9 L469,281.9 L469,287.6 L470,287.6 L470,289.3 L471,289.3 L471,289.6 L472,289.6 L472,289.2 L473,289.2 L473,283.1 L474,283.1 L474,270.5 L475,270.5 L475,232.1 L476,232.1 L476,202.8 L477,202.8 L477,173.0 L478,173.0 L478,93.8 L479,93.8 L480,93.8 L481,93.8 L481,175.4 L482,175.4 L482,153.4 L483,153.4 L484,153.4 L484,171.3 L485,171.3 L485,178.6 L486,178.6 L486,204.0 L487,204.0 L487,214.9 L488,214.9 L488,225.5 L489,225.5 L489,252.9 L490,252.9 L490,270.4 L491,270.4 L491,276.6 L492,276.6 L492,286.2 L493,286.2 L493,287.8 L494,287.8 L494,287.6 L495,287.6 L495,286.1 L496,286.1 L496,275.6 L497,275.6 L497,250.7 L498,250.7 L498,219.1 L499,219.1 L499,184.9 L500,184.9 L500,124.7 L501,124.7 L501,79.9 L502,79.9 L503,79.9 L504,79.9 L504,84.2 L505,84.2 L505,90.4 L506,90.4 L506,106.7 L507,106.7 L507,152.5 L508,152.5 L508,185.7 L509,185.7 L509,204.3 L510,204.3 L510,213.2 L511,213.2 L511,237.3 L512,237.3 L512,258.2 L513,258.2 L513,270.7 L514,270.7 L514,279.1 L515,279.1 L515,285.5 L516,285.5 L516,285.8 L517,285.8 L517,285.4 L518,285.4 L518,278.9 L519,278.9 L519,265.9 L520,265.9 L520,225.7 L521,225.7 L521,195.1 L522,195.1 L522,163.9 L523,163.9 L523,84.7 L524,84.7 L524,80.3 L525,80.3 L526,80.3 L526,83.6 L527,83.6 L527,87.7 L528,87.7 L528,93.1 L529,93.1 L529,136.0 L530,136.0 L530,172.3 L531,172.3 L531,199.5 L532,199.5 L532,211.3 L533,211.3 L533,222.7 L534,222.7 L534,252.1 L535,252.1 L535,270.9 L536,270.9 L536,277.6 L537,277.6 L537,288.0 L538,288.0 L538,289.6 L539,289.6 L539,289.4 L540,289.4 L540,287.9 L541,287.9 L541,277.3 L542,277.3 L542,266.4 L543,266.4 L543,249.9 L544,249.9 L544,207.5 L545,207.5 L545,188.7 L546,188.7 L546,175.2 L547,175.2 L547,139.0 L548,139.0 L549,139.0 L549,153.4 L550,153.4 L550,161.8 L551,161.8 L551,169.0 L552,169.0 L552,183.5 L553,183.5 L553,200.6 L554,200.6 L554,240.6 L555,240.6 L555,247.4 L556,247.4 L556,258.4 L557,258.4 L557,271.6 L558,271.6 L558,281.2 L559,281.2 L559,287.4 L560,287.4 L560,289.3 L561,289.3 L561,289.6 L562,289.6 L562,289.2 L563,289.2 L563,283.0 L564,283.0 L564,272.9 L565,272.9 L565,260.6 L566,260.6 L566,241.9 L567,241.9 L567,198.3 L568,198.3 L568,191.0 L569,191.0 L569,171.6 L570,171.6 L570,147.8 L571,147.8 L571,153.5 L572,153.5 L572,165.4 L573,165.4 L573,172.7 L574,172.7 L574,179.6 L575,179.6 L575,195.5 L576,195.5 L576,235.1 L577,235.1 L577,246.7 L578,246.7 L578,254.6 L579,254.6 L579,266.5 L580,266.5 L580,277.5 L581,277.5 L581,285.0 L582,285.0 L582,288.8 L583,288.8 L583,289.6 L584,289.6 L584,289.4 L585,289.4 L585,288.0 L586,288.0 L586,277.9 L587,277.9 L587,267.6 L588,267.6 L588,251.9 L589,251.9 L589,211.7 L590,211.7 L590,193.8 L591,193.8 L591,181.0 L592,181.0 L592,146.6 L593,146.6 L594,146.6 L594,160.3 L595,160.3 L595,168.2 L596,168.2 L596,175.1 L597,175.1 L597,188.8 L598,188.8 L598,205.0 L599,205.0 L599,242.9 L600,242.9 L600,249.4 L601,249.4 L601,259.8 L602,259.8 L602,272.3 L603,272.3 L603,281.4 L604,281.4 L604,287.3 L605,287.3 L605,290.5 L606,290.5 L606,291.8 L607,291.8 L607,290.4 L608,290.4 L608,283.6 L609,283.6 L609,274.6 L610,274.6 L610,263.7 L611,263.7 L611,247.0 L612,247.0 L612,208.3 L613,208.3 L613,201.7 L614,201.7 L614,184.5 L615,184.5 L615,163.4 L616,163.4 L616,168.4 L617,168.4 L617,179.0 L618,179.0 L618,185.5 L619,185.5 L619,191.6 L620,191.6 L620,205.8 L621,205.8 L621,241.0 L622,241.0 L622,251.3 L623,251.3 L623,258.3 L624,258.3 L624,268.9 L625,268.9 L625,278.6 L626,278.6 L626,285.3 L627,285.3 L627,291.2 L628,291.2 L628,293.7 L629,293.7 L629,291.4 L630,291.4 L630,287.8 L631,287.8 L631,277.7 L632,277.7 L632,254.0 L633,254.0 L633,223.8 L634,223.8 L634,191.1 L635,191.1 L635,133.6 L636,133.6 L636,96.3 L637,96.3 L637,89.8 L638,89.8 L639,89.8 L640,89.8 L640,96.3 L641,96.3 L641,116.7 L642,116.7 L642,161.0 L643,161.0 L643,193.0 L644,193.0 L644,211.0 L645,211.0 L645,219.6 L646,219.6 L646,242.8 L647,242.8 L647,263.0 L648,263.0 L648,275.0 L649,275.0 L649,283.1 L650,283.1 L650,289.3 L651,289.3 L651,289.6 L652,289.6 L652,289.2 L653,289.2 L653,282.9 L654,282.9 L654,270.0 L655,270.0 L655,230.5 L656,230.5 L656,215.9 L657,215.9 L657,180.9 L658,180.9 L658,113.7 L659,113.7 L659,96.3 L660,96.3 L660,87.4 L661,87.4 L662,87.4 L662,91.7 L663,91.7 L663,99.6 L664,99.6 L664,140.7 L665,140.7 L665,175.5 L666,175.5 L666,201.5 L667,201.5 L667,212.8 L668,212.8 L668,223.7 L669,223.7 L669,251.9 L670,251.9 L670,269.9 L671,269.9 L671,276.2 L672,276.2 L672,286.2 L673,286.2 L673,287.8 L674,287.8 L674,287.5 L675,287.5 L675,286.0 L676,286.0 L676,275.2 L677,275.2 L677,249.6 L678,249.6 L678,217.0 L679,217.0 L679,181.8 L680,181.8 L680,119.8 L681,119.8 L681,84.7 L682,84.7 L682,77.8 L683,77.8 L683,73.4 L684,73.4 L685,73.4 L685,81.4 L686,81.4 L687,81.4 L687,149.5 L688,149.5 L688,184.1 L689,184.1 L689,203.6 L690,203.6 L690,212.9 L691,212.9 L691,238.1 L692,238.1 L692,259.9 L693,259.9 L693,272.9 L694,272.9 L694,281.7 L695,281.7 L695,288.3 L696,288.3 L696,288.7 L697,288.7 L697,288.2 L698,288.2 L698,281.6 L699,281.6 L699,268.1 L700,268.1 L700,226.7 L701,226.7 L701,211.4 L702,211.4 L702,174.7 L703,174.7 L703,104.3 L704,104.3 L704,83.6 L705,83.6 L705,76.4 L706,76.4 L707,76.4 L708,76.4 L708,85.9 L709,85.9 L709,132.8 L710,132.8 L710,169.4 L711,169.4 L711,196.9 L712,196.9 L712,208.8 L713,208.8 L713,220.2 L714,220.2 L714,250.0 L715,250.0 L715,268.9 L716,268.9 L716,275.6 L717,275.6 L717,286.1 L718,286.1 L718,287.8 L719,287.8 L719,287.5 L720,287.5 L720,286.0 L721,286.0 L721,274.6 L722,274.6 L722,247.8 L723,247.8 L723,213.9 L724,213.9 L724,177.1 L725,177.1 L725,112.2 L726,112.2 L726,73.2 L727,73.2 L727,63.8 L728,63.8 L729,63.8 L729,71.1 L730,71.1 L730,77.8 L731,77.8 L731,93.2 L732,93.2 L732,143.0 L733,143.0 L733,179.0 L734,179.0 L734,199.2 L735,199.2 L735,208.9 L736,208.9 L736,235.1 L737,235.1 L737,257.8 L738,257.8 L738,271.3 L739,271.3 L739,280.4 L740,280.4 L740,287.4 L741,287.4 L741,287.8 L742,287.8 L742,287.4 L743,287.4 L743,281.0 L744,281.0 L744,270.5 L745,270.5 L745,257.9 L746,257.9 L746,238.5 L747,238.5 L747,193.6 L748,193.6 L748,186.0 L749,186.0 L749,166.0 L750,166.0 L750,141.5 L751,141.5 L751,147.4 L752,147.4 L752,159.8 L753,159.8 L753,167.5 L754,167.5 L754,174.6 L755,174.6 L755,191.3 L756,191.3 L756,232.7 L757,232.7 L757,244.8 L758,244.8 L758,253.0 L759,253.0 L759,265.5 L760,265.5 L760,276.9 L761,276.9 L761,284.8 L762,284.8 L762,288.8 L763,288.8 L763,289.6 L764,289.6 L764,289.4 L765,289.4 L765,288.0 L766,288.0 L766,278.0 L767,278.0 L767,267.8 L768,267.8 L768,252.2 L769,252.2 L769,212.4 L770,212.4 L770,194.7 L771,194.7 L771,182.0 L772,182.0 L772,147.8 L773,147.8 L774,147.8 L774,161.4 L775,161.4 L775,169.3 L776,169.3 L776,176.1 L777,176.1 L777,189.7 L778,189.7 L778,205.8 L779,205.8 L779,243.4 L780,243.4 L780,249.7 L781,249.7 L781,260.1 L782,260.1 L782,272.4 L783,272.4 L783,281.5 L784,281.5 L784,287.3 L785,287.3 L785,291.4 L786,291.4 L786,293.7 L787,293.7 L787,291.3 L788,291.3 L788,282.3 L789,282.3 L789,268.9 L790,268.9 L790,227.8 L791,227.8 L791,212.5 L792,212.5 L792,176.1 L793,176.1 L793,106.1 L794,106.1 L794,85.9 L795,85.9 L795,81.4 L796,81.4 L796,77.7 L797,77.7 L798,77.7 L798,83.6 L799,83.6 L799,134.6 L800,134.6 L800,171.0 L801,171.0 L801,198.3 L802,198.3 L802,210.2 L803,210.2 L803,221.6 L804,221.6 L804,251.2 L805,251.2 L805,270.1 L806,270.1" stroke="#FFFF80"/>
</g></g>
<path d="M122,13.5 L128,13.5 L125,8.3 Z" fill="#00FF00"/>
<path d="M811,312 L811,318.2 L816,315.2 Z" fill="#00FF00"/>
<rect x="31.5" y="365.5" width="16" height="16" fill="#FF8080" stroke="#000" stroke-width="1" shape-rendering="crispEdges"/>
<rect x="31.5" y="393.5" width="16" height="16" fill="#FFFF80" stroke="#000" stroke-width="1" shape-rendering="crispEdges"/>
</svg>
<div class="t" style="left:96.00px;top:301.83px">0</div>
<div class="t" style="left:70.00px;top:244.14px">500</div>
<div class="t" style="left:57.00px;top:186.45px">1000</div>
<div class="t" style="left:57.00px;top:128.76px">1500</div>
<div class="t" style="left:57.00px;top:71.06px">2000</div>
<div class="t" style="left:57.00px;top:13.37px">2500</div>
<div class="t" style="left:188.51px;top:317.83px">Week 41</div>
<div class="t" style="left:345.73px;top:317.83px">Week 42</div>
<div class="t" style="left:502.95px;top:317.83px">Week 43</div>
<div class="t" style="left:660.17px;top:317.83px">Week 44</div>
<div class="t" style="left:56.60px;top:359.53px">legtöbb</div>
<div class="t" style="left:56.60px;top:387.83px">átlag</div>
<div class="t" style="left:224.20px;top:387.83px">most: 409</div>
<div class="t" style="left:442.20px;top:387.83px">átlag: 904</div>
<div class="t" style="left:674.40px;top:387.83px">max: 2171</div>
<div class="v">onlinestream.live</div>
</body></html>
